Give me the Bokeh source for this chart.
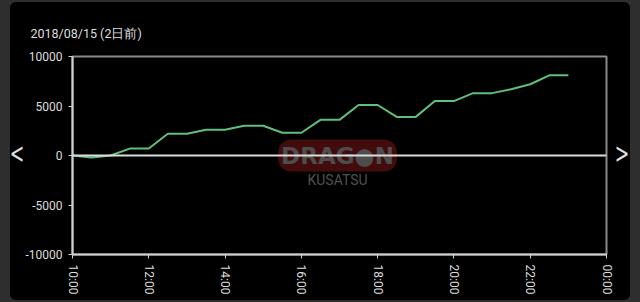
import math
from bokeh.plotting import figure
from bokeh.models import Label, Span, Range1d, FixedTicker, ColumnDataSource, Div
from bokeh.layouts import column, row
from bokeh.embed import file_html
from bokeh.resources import INLINE

# --- data ---
hours = [10 + 0.5 * i for i in range(27)]  # 10:00 .. 23:00 every 30 min
values = [0, -200, 0, 700, 700, 2200, 2200, 2600, 2600, 3000, 3000, 2300, 2300,
          3600, 3600, 5100, 5100, 3900, 3900, 5500, 5500, 6300, 6300, 6700, 7200,
          8100, 8100]
x_ticks = [10, 12, 14, 16, 18, 20, 22, 24]
x_tick_labels = ["10:00", "12:00", "14:00", "16:00", "18:00", "20:00", "22:00", "00:00"]
y_ticks = [-10000, -5000, 0, 5000, 10000]
title_text = "2018/08/15 (2日前)"

FONT = "Roboto"
TXT = "#dddddd"

p = figure(width=594, height=298, frame_width=534, frame_height=198,
           min_border_left=52, min_border_right=8, min_border_top=54, min_border_bottom=46,
           x_range=Range1d(10, 24), y_range=Range1d(-10000, 10000),
           output_backend="svg", toolbar_location=None,
           background_fill_color="black", border_fill_color="black",
           outline_line_color="#8a8a8a", outline_line_width=2)
p.grid.visible = False
p.margin = 0

p.title.text = title_text
p.title.align = "left"
p.title.offset = -42
p.title.standoff = 31
p.title.text_font = FONT
p.title.text_font_size = "12.5px"
p.title.text_font_style = "normal"
p.title.text_color = TXT

for ax in (p.xaxis[0], p.yaxis[0]):
    ax.axis_line_color = "#d0d0d0"
    ax.axis_line_width = 2
    ax.major_tick_line_color = "#d0d0d0"
    ax.major_tick_line_width = 1
    ax.major_tick_out = 4
    ax.major_tick_in = 0
    ax.minor_tick_line_color = None
    ax.minor_tick_out = 0
    ax.minor_tick_in = 0
    ax.major_label_text_color = TXT
    ax.major_label_text_font = FONT
    ax.major_label_text_font_size = "12px"

p.xaxis.ticker = FixedTicker(ticks=x_ticks)
p.xaxis.major_label_overrides = {t: l for t, l in zip(x_ticks, x_tick_labels)}
p.xaxis.major_label_orientation = -math.pi / 2
p.xaxis.major_label_standoff = 6
p.yaxis.ticker = FixedTicker(ticks=y_ticks)
p.yaxis.major_label_overrides = {t: str(t) for t in y_ticks}
p.yaxis.major_label_standoff = 6

# watermark (screen positions relative to the plot frame's bottom-left corner)
p.add_layout(Label(x=265, y=99, x_units="screen", y_units="screen", text="DRAG\u25CFN",
                   text_align="center", text_baseline="middle", text_font="DejaVu Sans",
                   text_font_style="bold", text_font_size="23px", text_color="#4d4d4d",
                   background_fill_color="#4a0d0d", background_fill_alpha=0.9,
                   border_radius=13, padding=3))
p.add_layout(Label(x=265, y=75, x_units="screen", y_units="screen", text="KUSATSU",
                   text_align="center", text_baseline="middle", text_font=FONT,
                   text_font_size="14px", text_color="#505050"))

zero = Span(location=0, dimension="width", line_color="#dcdcdc", line_width=2)
p.add_layout(zero)

src = ColumnDataSource(dict(x=hours, y=values))
p.line("x", "y", source=src, line_color="#5fbf7c", line_width=2)


def arrow_div(sym, w, shift):
    html = ('<div style="margin-top:137px;margin-left:%dpx;width:30px;height:30px;'
            'line-height:30px;font-size:28px;color:#e0e0e0;text-align:center;'
            'font-family:\'DejaVu Sans\';transform:scaleX(0.62);">%s</div>') % (shift, sym)
    return Div(text=html, width=w, height=298, margin=0,
               styles={"background-color": "black", "overflow": "visible", "z-index": "5"})


left = arrow_div("&lt;", 10, -8)
right = arrow_div("&gt;", 16, -7)

panel = row(left, p, right, width=620, height=298, margin=(2, 10, 2, 10),
            styles={"background-color": "black", "border-radius": "6px", "overflow": "hidden"})
root = column(panel, width=640, height=302, styles={"background-color": "#2e2e2e"})

open("out.html", "w").write(file_html(root, INLINE))
